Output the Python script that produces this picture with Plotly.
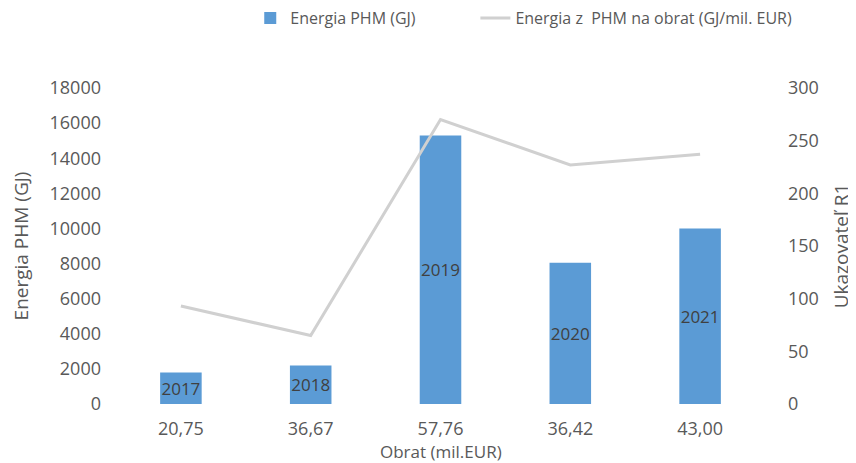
import plotly.graph_objects as go

# Data
turnover_labels = ["20,75", "36,67", "57,76", "36,42", "43,00"]
years = ["2017", "2018", "2019", "2020", "2021"]
energy_gj = [1800, 2200, 15300, 8050, 10000]
energy_per_turnover = [93, 65, 270, 227, 237]
left_ticks = [0, 2000, 4000, 6000, 8000, 10000, 12000, 14000, 16000, 18000]
right_ticks = [0, 50, 100, 150, 200, 250, 300]

FONT = "Open Sans"
GRAY = "#595959"

fig = go.Figure()
fig.add_trace(go.Bar(
    x=turnover_labels, y=energy_gj, name="Energia PHM (GJ)", legend="legend",
    marker=dict(color="#5B9BD5", line=dict(width=0)),
    text=years, textposition="inside", insidetextanchor="middle",
    textangle=0, constraintext="none",
    insidetextfont=dict(family=FONT, size=17, color="#404040"),
))
fig.add_trace(go.Scatter(
    x=turnover_labels, y=energy_per_turnover, yaxis="y2", legend="legend2",
    name="Energia z  PHM na obrat (GJ/mil. EUR)", mode="lines",
    line=dict(color="#D0D0D0", width=3),
))

fig.update_layout(
    width=856, height=463,
    margin=dict(l=108, r=99, t=80, b=67, autoexpand=False),
    paper_bgcolor="white", plot_bgcolor="white",
    font=dict(family=FONT, color=GRAY),
    bargap=0.68,
    showlegend=True,
    legend=dict(orientation="h", xref="container", yref="container",
                x=0.283, xanchor="left", y=0.978, yanchor="middle",
                font=dict(size=16, color=GRAY)),
    legend2=dict(orientation="h", xref="container", yref="container",
                 x=0.546, xanchor="left", y=0.978, yanchor="middle",
                 font=dict(size=16, color=GRAY)),
    xaxis=dict(
        type="category", showgrid=False, zeroline=False, showline=False, ticks="",
        automargin=False, ticklabelstandoff=12,
        tickfont=dict(size=18, color=GRAY),
    ),
    yaxis=dict(
        range=[0, 18000], tickvals=left_ticks, ticktext=[str(v) for v in left_ticks],
        showgrid=False, zeroline=False, automargin=False,
        showline=False, ticks="", ticklabelstandoff=14,
        tickfont=dict(size=18, color=GRAY),
        title=dict(text="Energia PHM (GJ)", font=dict(size=19, color=GRAY), standoff=22),
    ),
    yaxis2=dict(
        overlaying="y", side="right", range=[0, 300], tickvals=right_ticks,
        ticktext=[str(v) for v in right_ticks], automargin=False,
        showgrid=False, zeroline=False, showline=False, ticks="",
        ticklabelstandoff=22,
        tickfont=dict(size=18, color=GRAY),
        title=dict(text="Ukazovateľ R1", font=dict(size=19, color=GRAY), standoff=16),
    ),
    annotations=[dict(
        text="Obrat (mil.EUR)", xref="paper", yref="paper", x=0.5, y=-0.149,
        xanchor="center", yanchor="middle", showarrow=False,
        font=dict(size=17, color=GRAY),
    )],
)

fig.write_html("out.html")
